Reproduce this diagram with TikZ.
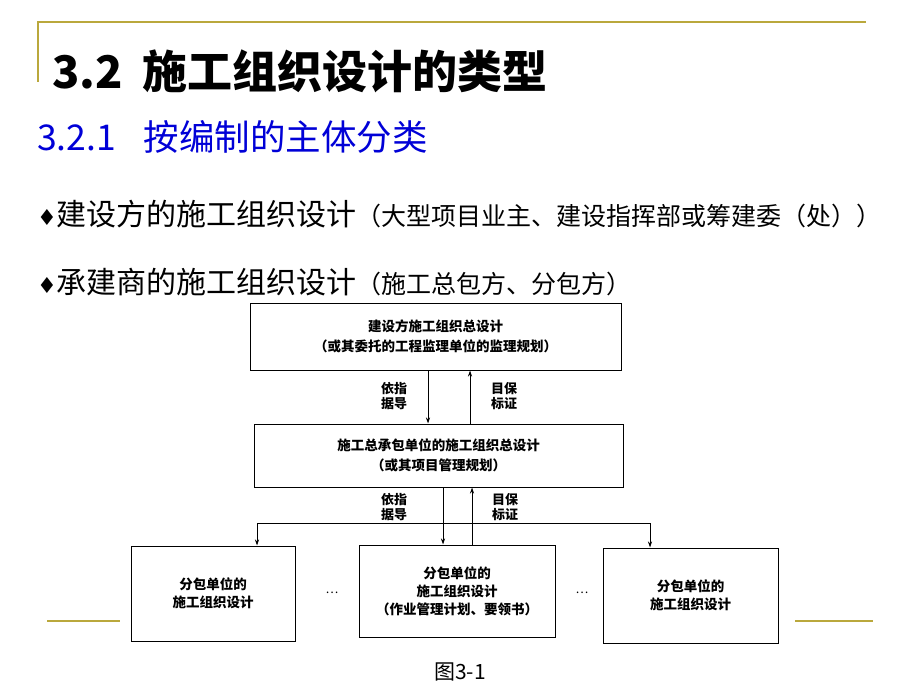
\documentclass[tikz,border=0pt]{standalone}
\usepackage{fontspec}
\setmainfont{Noto Sans CJK SC}
\newfontfamily\symfont{DejaVu Sans}
\usetikzlibrary{arrows.meta, positioning}

\definecolor{slidegold}{RGB}{186,168,60}
\definecolor{headblue}{RGB}{0,0,215}

\begin{document}
\begin{tikzpicture}[x=1pt, y=-1pt, >={Stealth[length=6pt,width=4pt]},
    box/.style={draw, line width=1pt, align=center, inner sep=0pt,
                font=\fontsize{13.5}{18}\selectfont\bfseries},
    bigbox/.style={box, font=\fontsize{13.5}{20}\selectfont\bfseries},
    lbl/.style={align=center, inner sep=0pt, font=\fontsize{13}{15}\selectfont\bfseries},
    txt/.style={anchor=base west, inner sep=0pt},
    gold/.style={slidegold, line width=2.4pt}]

    \useasboundingbox (0,0) rectangle (920,690);

    % slide frame
    \draw[gold] (38,82) -- (38,22) -- (866,22);
    \draw[gold] (47,621) -- (120,621);
    \draw[gold] (795,621) -- (873,621);

    % headings
    \node[txt, font=\fontsize{45}{45}\selectfont\bfseries] (title) at (52,89)
        {\makebox[2em][l]{3.2}施工组织设计的类型};
    \node[txt, font=\fontsize{35.5}{36}\selectfont, text=headblue] (sub) at (37,150)
        {\makebox[3em][l]{3.2.1}按编制的主体分类};
    \node[txt] (item1) at (37,225)
        {{\symfont\fontsize{22}{22}\selectfont ♦}{\fontsize{30}{30}\selectfont 建设方的施工组织设计}{\fontsize{25}{25}\selectfont （大型项目业主、建设指挥部或筹建委（处））}};
    \node[txt] (item2) at (37,293)
        {{\symfont\fontsize{22}{22}\selectfont ♦}{\fontsize{30}{30}\selectfont 承建商的施工组织设计}{\fontsize{25}{25}\selectfont （施工总包方、分包方）}};

    % boxes
    \node[bigbox, minimum width=371, minimum height=67] (owner) at (435.5,336.5)
        {建设方施工组织总设计\\（或其委托的工程监理单位的监理规划）};
    \node[bigbox, minimum width=369, minimum height=63] (general) at (438.5,455.5)
        {施工总承包单位的施工组织总设计\\（或其项目管理规划）};
    \node[box, minimum width=164, minimum height=95] (subl) at (213,593.5)
        {分包单位的\\施工组织设计};
    \node[box, minimum width=196, minimum height=92] (subm) at (457,591)
        {分包单位的\\施工组织设计\\（作业管理计划、要领书）};
    \node[box, minimum width=175, minimum height=95] (subr) at (690.5,595.5)
        {分包单位的\\施工组织设计};

    \node[font=\fontsize{12}{12}\selectfont] (dotsl) at (332,593) {…};
    \node[font=\fontsize{12}{12}\selectfont] (dotsr) at (582,593) {…};

    % labels
    \node[lbl] (basis1) at (394,396) {依指\\据导};
    \node[lbl] (goal1) at (504,396) {目保\\标证};
    \node[lbl] (basis2) at (394,507) {依指\\据导};
    \node[lbl] (goal2) at (505,507) {目保\\标证};

    % connectors
    \coordinate (down1) at (428,0);
    \coordinate (up1) at (470,0);
    \coordinate (down2) at (443,0);
    \coordinate (up2) at (472,0);
    \coordinate (left) at (257,0);
    \coordinate (right) at (650,0);
    \coordinate (bus) at (443,523);

    \draw[->, line width=0.8pt] (owner.south -| down1) -- (general.north -| down1);
    \draw[->, line width=0.8pt] (general.north -| up1) -- (owner.south -| up1);
    \draw[->, line width=0.8pt] (general.south -| down2) -- (subm.north -| down2);
    \draw[->, line width=0.8pt] (subm.north -| up2) -- (general.south -| up2);
    \draw[->, line width=0.8pt] (bus) -| (subl.north -| left);
    \draw[->, line width=0.8pt] (bus) -| (subr.north -| right);

    \node[font=\fontsize{21}{21}\selectfont] (caption) at (460,672) {图3-1};
\end{tikzpicture}
\end{document}
